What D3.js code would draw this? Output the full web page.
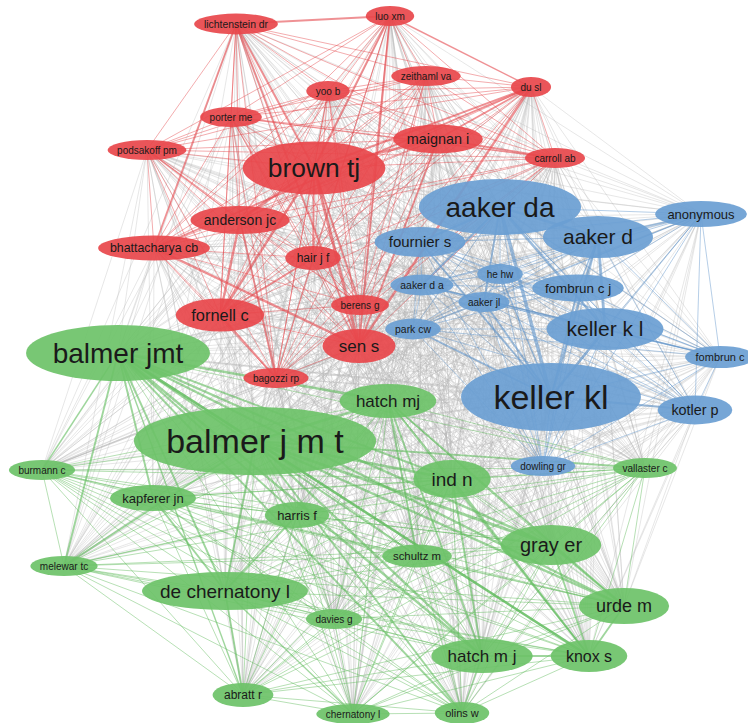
<!DOCTYPE html>
<html>
<head>
<meta charset="utf-8">
<script src="https://d3js.org/d3.v7.min.js"></script>
<style>
    body { margin: 0; background: #fff; }
    svg { display: block; }
</style>
</head>
<body>
<div id="map"></div>
<script>
// co-citation map data
const labels = [
    'lichtenstein dr', 'luo xm', 'zeithaml va', 'yoo b', 'du sl', 'porter me', 'maignan i',
    'podsakoff pm', 'carroll ab', 'brown tj', 'anderson jc', 'bhattacharya cb', 'hair j f',
    'fornell c', 'berens g', 'sen s', 'bagozzi rp',
    'aaker da', 'anonymous', 'aaker d', 'fournier s', 'he hw', 'aaker d a', 'fombrun c j',
    'aaker jl', 'park cw', 'keller k l', 'fombrun c', 'keller kl', 'kotler p', 'dowling gr',
    'balmer jmt', 'hatch mj', 'balmer j m t', 'burmann c', 'kapferer jn', 'harris f',
    'melewar tc', 'de chernatony l', 'davies g', 'abratt r', 'chernatony l', 'schultz m',
    'ind n', 'vallaster c', 'gray er', 'urde m', 'hatch m j', 'knox s', 'olins w'
];
const clusters = [
    1, 1, 1, 1, 1, 1, 1, 1, 1, 1, 1, 1, 1, 1, 1, 1, 1,
    3, 3, 3, 3, 3, 3, 3, 3, 3, 3, 3, 3, 3, 3,
    2, 2, 2, 2, 2, 2, 2, 2, 2, 2, 2, 2, 2, 2, 2, 2, 2, 2, 2
];
// layout coordinates from the map
const layoutX = [
    236, 390, 426, 328, 531, 231, 438, 147, 555, 314, 240, 154, 313, 220, 360, 359, 276,
    500, 701, 598, 420, 500, 422, 578, 484, 413, 605, 720, 551, 695, 543,
    118, 388, 255, 42, 153, 297, 64, 225, 334, 243, 353, 417, 452, 645, 551, 624, 482, 589, 462
];
const layoutY = [
    24, 16, 76, 91, 87, 117, 139, 150, 158, 168, 220, 248, 258, 315, 305, 346, 378,
    207, 214, 237, 242, 274, 285, 288, 302, 329, 329, 357, 397, 410, 466,
    353, 401, 441, 470, 498, 515, 566, 591, 619, 695, 714, 556, 479, 468, 545, 606, 656, 656, 713
];
// citations
const weights = [
    22, 20, 20, 20, 20, 20, 42, 20, 20, 102, 40, 32, 30, 52, 20, 55, 20,
    110, 35, 75, 45, 20, 22, 37, 20, 22, 75, 25, 140, 42, 20,
    110, 55, 140, 20, 35, 35, 20, 65, 20, 30, 20, 27, 65, 20, 70, 60, 55, 50, 25
];
// stronger co-citation links [a, b, strength]; every other pair has strength 1
const strongLinks = [
    ['brown tj', 'sen s', 5], ['brown tj', 'anderson jc', 4], ['brown tj', 'fornell c', 4],
    ['brown tj', 'maignan i', 4], ['brown tj', 'berens g', 3], ['brown tj', 'luo xm', 3],
    ['brown tj', 'lichtenstein dr', 3], ['brown tj', 'hair j f', 3], ['brown tj', 'du sl', 3],
    ['sen s', 'du sl', 4], ['sen s', 'bhattacharya cb', 4], ['sen s', 'maignan i', 3],
    ['sen s', 'lichtenstein dr', 3], ['sen s', 'luo xm', 3], ['anderson jc', 'fornell c', 4],
    ['fornell c', 'hair j f', 3], ['fornell c', 'bagozzi rp', 3], ['anderson jc', 'bagozzi rp', 3],
    ['lichtenstein dr', 'luo xm', 3], ['luo xm', 'du sl', 2], ['maignan i', 'du sl', 3],
    ['bhattacharya cb', 'du sl', 3], ['bhattacharya cb', 'lichtenstein dr', 3],
    ['podsakoff pm', 'anderson jc', 2], ['porter me', 'carroll ab', 2], ['carroll ab', 'maignan i', 3],
    ['aaker da', 'keller kl', 6], ['aaker da', 'aaker d', 4], ['aaker d', 'keller k l', 5],
    ['aaker da', 'keller k l', 4], ['keller kl', 'keller k l', 4], ['aaker da', 'fournier s', 4],
    ['fournier s', 'keller kl', 3], ['aaker d', 'keller kl', 4], ['aaker da', 'aaker d a', 3],
    ['aaker d a', 'keller k l', 2], ['aaker jl', 'keller kl', 3], ['aaker da', 'aaker jl', 3],
    ['keller kl', 'kotler p', 3], ['fombrun c j', 'keller kl', 2], ['anonymous', 'aaker d', 2],
    ['park cw', 'keller kl', 3], ['he hw', 'keller kl', 2], ['fombrun c', 'keller k l', 2],
    ['aaker d', 'fombrun c j', 2],
    ['balmer jmt', 'balmer j m t', 4], ['balmer jmt', 'hatch mj', 4], ['balmer jmt', 'gray er', 4],
    ['balmer jmt', 'urde m', 4], ['balmer jmt', 'knox s', 4], ['balmer jmt', 'ind n', 3],
    ['balmer jmt', 'de chernatony l', 3], ['balmer jmt', 'kapferer jn', 3], ['balmer jmt', 'hatch m j', 4],
    ['balmer jmt', 'harris f', 3], ['balmer jmt', 'schultz m', 3], ['balmer j m t', 'gray er', 5],
    ['balmer j m t', 'urde m', 4], ['balmer j m t', 'knox s', 4], ['balmer j m t', 'ind n', 4],
    ['balmer j m t', 'hatch m j', 4], ['balmer j m t', 'hatch mj', 4], ['balmer j m t', 'de chernatony l', 3],
    ['balmer j m t', 'vallaster c', 3], ['hatch mj', 'urde m', 3], ['hatch mj', 'knox s', 3],
    ['hatch mj', 'schultz m', 3], ['hatch mj', 'hatch m j', 3], ['ind n', 'knox s', 3],
    ['ind n', 'hatch m j', 3], ['gray er', 'knox s', 3], ['gray er', 'urde m', 3],
    ['hatch m j', 'knox s', 3], ['urde m', 'knox s', 3], ['de chernatony l', 'harris f', 3],
    ['de chernatony l', 'kapferer jn', 3], ['de chernatony l', 'abratt r', 3], ['burmann c', 'balmer jmt', 2],
    ['melewar tc', 'balmer jmt', 3], ['melewar tc', 'balmer j m t', 3], ['abratt r', 'balmer jmt', 2],
    ['olins w', 'hatch m j', 2], ['olins w', 'balmer jmt', 3], ['olins w', 'balmer j m t', 3],
    ['chernatony l', 'de chernatony l', 2],
    ['keller kl', 'balmer j m t', 3], ['aaker da', 'brown tj', 3], ['keller kl', 'brown tj', 3],
    ['keller kl', 'balmer jmt', 3], ['aaker da', 'balmer j m t', 2], ['keller kl', 'hatch mj', 3],
    ['aaker d', 'balmer jmt', 2]
];

class NetworkChart {

    constructor() {
        this.width = 748;
        this.height = 723;
        this.colors = { 1: '#e8464b', 2: '#6cc268', 3: '#6a9ed2' };
        this.lineColors = { 1: '#e5474c', 2: '#5fba5b', 3: '#5d93c9', 0: '#b5b5b5' };

        this.svg = d3.select('#map').append('svg')
            .attr('width', this.width)
            .attr('height', this.height)
            .style('font-family', '"Liberation Sans", Arial, sans-serif');

        this.x = d3.scaleLinear().domain([0, 748]).range([0, this.width]);
        this.y = d3.scaleLinear().domain([0, 723]).range([0, this.height]);
        this.font = d3.scaleLinear().domain([20, 140]).range([10, 34]);
        this.lineWidth = d3.scaleLinear().domain([1, 6]).range([0.9, 3.4]);

        this.nodes = labels.map((d, i) => ({
            label: d,
            cluster: clusters[i],
            x: this.x(layoutX[i]),
            y: this.y(layoutY[i]),
            size: this.font(weights[i])
        }));
        this.draw();
    }

    buildLinks() {
        let self = this;
        let strength = {};
        strongLinks.forEach(d => {
            strength[d[0] + '|' + d[1]] = d[2];
            strength[d[1] + '|' + d[0]] = d[2];
        });
        let links = [];
        for (let i = 0; i < self.nodes.length; i++) {
            for (let j = i + 1; j < self.nodes.length; j++) {
                let a = self.nodes[i], b = self.nodes[j];
                let s = strength[a.label + '|' + b.label] || 1;
                links.push({
                    source: a,
                    target: b,
                    strength: s,
                    cluster: a.cluster === b.cluster ? a.cluster : 0
                });
            }
        }
        // grey ones first, thin ones under thick ones
        links.sort((p, q) => (p.cluster === 0 ? 0 : 1) - (q.cluster === 0 ? 0 : 1) || p.strength - q.strength);
        return links;
    }

    draw() {
        let self = this;
        self.svg.append('rect')
            .attr('width', self.width)
            .attr('height', self.height)
            .attr('fill', '#fff');

        self.svg.append('g')
            .attr('class', 'links')
            .selectAll('line')
            .data(self.buildLinks())
            .enter()
            .append('line')
            .attr('x1', d => d.source.x)
            .attr('y1', d => d.source.y)
            .attr('x2', d => d.target.x)
            .attr('y2', d => d.target.y)
            .attr('stroke', d => self.lineColors[d.cluster])
            .attr('stroke-width', d => self.lineWidth(d.strength))
            .attr('stroke-opacity', d => d.cluster === 0 ? 0.36 : (d.strength > 1 ? 0.6 : 0.5));

        let node = self.svg.append('g')
            .attr('class', 'nodes')
            .selectAll('g')
            .data(self.nodes.slice().sort((a, b) => a.size - b.size))
            .enter()
            .append('g')
            .attr('transform', d => `translate(${d.x},${d.y})`);

        let ellipse = node.append('ellipse')
            .attr('fill', d => self.colors[d.cluster])
            .attr('fill-opacity', 0.92);

        let text = node.append('text')
            .text(d => d.label)
            .attr('text-anchor', 'middle')
            .attr('dy', '0.35em')
            .style('font-size', d => `${d.size}px`)
            .style('fill', '#1a1a1a');

        // ellipse fits the label
        text.each(function(d) {
            d.textWidth = this.getComputedTextLength();
        });
        ellipse
            .attr('rx', d => d.textWidth / 2 + d.size * 0.95)
            .attr('ry', d => d.size);
    }
}

new NetworkChart();
</script>
</body>
</html>
